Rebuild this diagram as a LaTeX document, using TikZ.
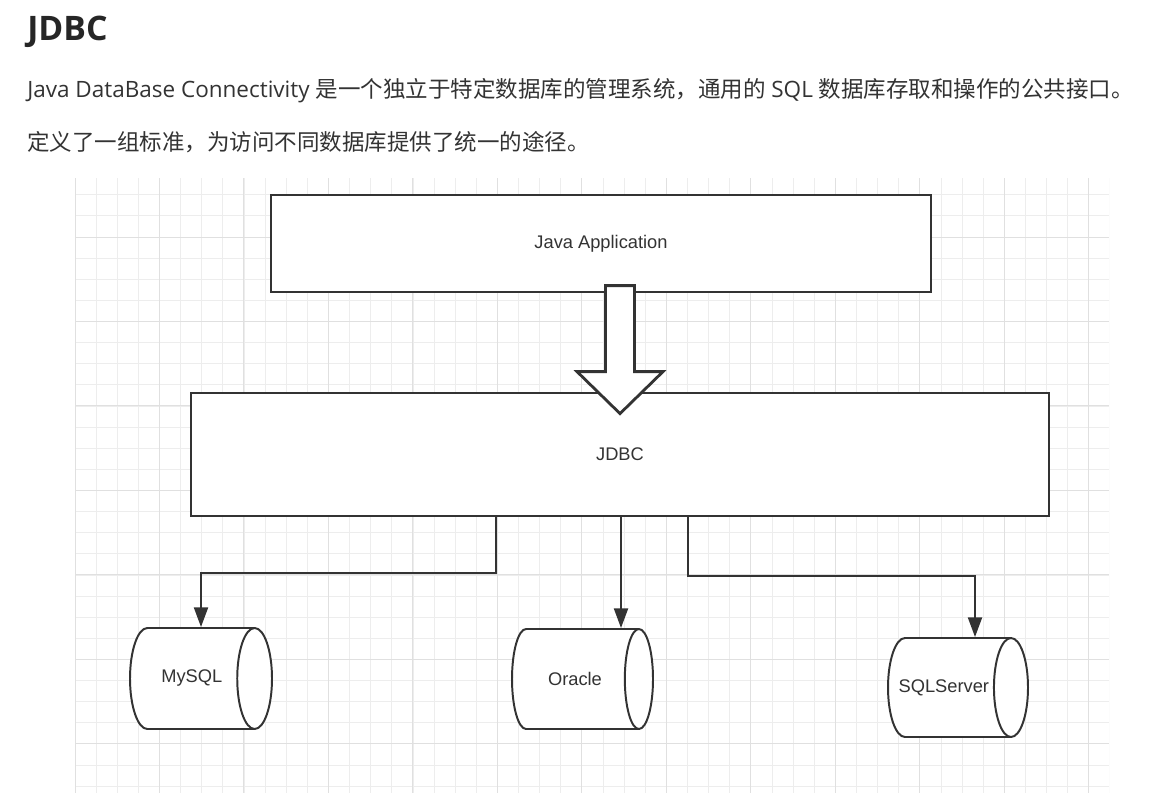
\documentclass[tikz,border=0pt]{standalone}
\usepackage{fontspec}
\setmainfont{Open Sans}
\newfontfamily\cjk{Noto Sans CJK SC}
\newfontfamily\labelfont{Liberation Sans}
\usetikzlibrary{arrows.meta, positioning, shapes.geometric}
\definecolor{ink}{HTML}{333333}
\definecolor{gridminor}{HTML}{EDEDED}
\definecolor{gridmajor}{HTML}{E0E0E0}

\begin{document}
\begin{tikzpicture}[x=0.025cm, y=-0.025cm,
        % Layer boxes: thick dark border, white fill
        layer/.style={rectangle, draw=ink, line width=2pt, fill=white,
            font=\labelfont\fontsize{13}{15}\selectfont, text=ink},
        % Database cylinders lying on their side
        db/.style={cylinder, draw=ink, line width=1.4pt, fill=white,
            aspect=2.1, inner sep=0pt, anchor=shape center,
            font=\labelfont\fontsize{13}{15}\selectfont, text=ink},
        % Elbow connectors with a filled tip
        link/.style={draw=ink, line width=1.4pt,
            -{Triangle[width=10pt, length=14pt]}},
        % Hollow block arrow
        bigarrow/.style={draw=ink, line width=2pt, fill=white, line join=miter},
        % Heading and paragraph text
        heading/.style={anchor=base west, inner sep=0pt, text=black!85,
            font=\bfseries\fontsize{24}{28}\selectfont},
        para/.style={anchor=base west, inner sep=0pt, text=ink,
            font=\fontsize{16}{20}\selectfont},
        ]

        % one pixel of the reference
        \def\u{0.025cm}

        \useasboundingbox (0,0) rectangle (1174,809);
        \fill[white] (0,0) rectangle (1174,809);

        % === Heading and text ===
        \node[heading] (title) at (27,40) {JDBC};
        \node[para] (line1) at (27,97) {Java DataBase Connectivity {\cjk 是一个独立于特定数据库的管理系统，通用的} SQL {\cjk 数据库存取和操作的公共接口。}};
        \node[para] (line2) at (27,150) {\cjk 定义了一组标准，为访问不同数据库提供了统一的途径。};

        % === Grid paper ===
        \begin{scope}
            \clip (75,178) rectangle (1109,793);
            \foreach \i in {0,...,49}
                \draw[gridminor, line width=0.6pt] ({75+21.12*\i},178) -- ({75+21.12*\i},793);
            \foreach \j in {-2,...,26}
                \draw[gridminor, line width=0.6pt] (75,{237+21.12*\j}) -- (1109,{237+21.12*\j});
            \foreach \i in {0,4,...,48}
                \draw[gridmajor, line width=0.7pt] ({75+21.12*\i},178) -- ({75+21.12*\i},793);
            \foreach \j in {0,4,...,24}
                \draw[gridmajor, line width=0.7pt] (75,{237+21.12*\j}) -- (1109,{237+21.12*\j});
        \end{scope}

        % === Layers ===
        \node[layer, minimum width=660*\u, minimum height=97*\u] (app) at (601,243.5) {Java Application};
        \node[layer, minimum width=858*\u, minimum height=123*\u] (jdbc) at (620,454.5) {JDBC};

        % === Databases ===
        \node[db, minimum width=101*\u, minimum height=142*\u] (mysql) at (201,678.5) {MySQL};
        \node[db, minimum width=100*\u, minimum height=141*\u] (oracle) at (582.5,679) {Oracle};
        \node[db, minimum width=99*\u, minimum height=140*\u] (sqlserver) at (958,687.5) {\makebox[2cm][r]{SQLServer}};

        % === Connectors ===
        \draw[link] (jdbc.south -| 496,0) |- (201,573) -- (201,0 |- mysql.north);
        \draw[link] (jdbc.south -| 621,0) -- (621,0 |- oracle.north);
        \draw[link] (jdbc.south -| 688,0) |- (975,576) -- (975,0 |- sqlserver.north);

        % Hollow arrow from the application down into JDBC
        \draw[bigarrow] (jdbc.north) ++(0,22) coordinate (tip)
            -- ++(-43,-42) -- ++(28.5,0) -- ++(0,-86) -- ++(29,0)
            -- ++(0,86) -- ++(28.5,0) -- cycle;

\end{tikzpicture}
\end{document}
